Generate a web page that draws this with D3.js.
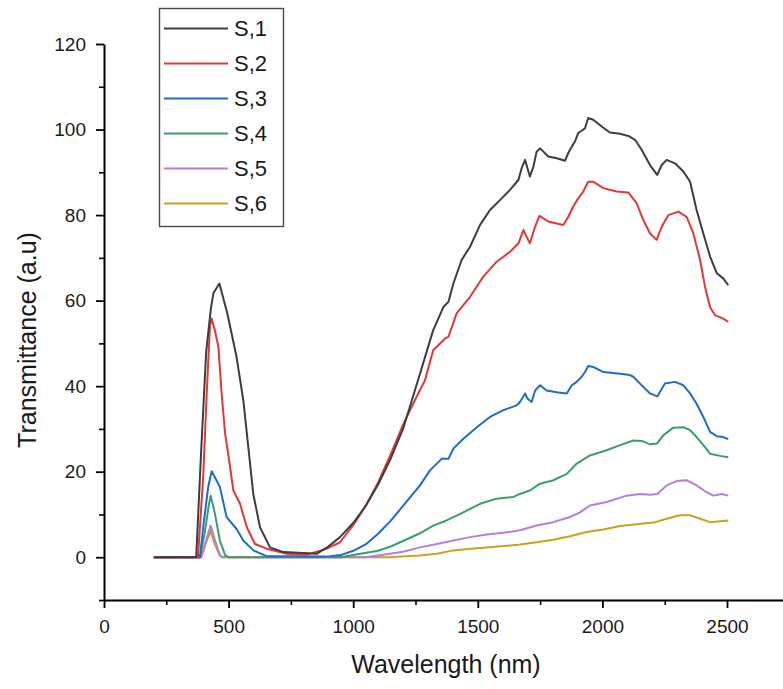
<!DOCTYPE html>
<html>
<head>
<meta charset="utf-8">
<script src="https://cdn.jsdelivr.net/npm/d3@7"></script>
<style>
  body { margin: 0; background: #fff; }
  svg { font-family: "Liberation Sans", Arial, sans-serif; }
</style>
</head>
<body>
<div id="chart"></div>
<script>
// readings from the plot: [wavelength nm, transmittance]
const s1 = [[200,0],[370,0],[390,25],[410,48],[429,58.2],[439,61.7],[463,64],[495,57],[532,46.8],[559,36.7],[579,25.8],[599,14.8],[626,7],[666,2.3],[720,1.2],[800,1],[853,0.8],[900,2.5],[947,4.7],[1000,8],[1050,12],[1100,17],[1150,23],[1200,30],[1268,42.9],[1321,53.1],[1362,58.5],[1382,59.7],[1402,64],[1435,69.5],[1469,72.6],[1509,77.7],[1549,81.2],[1589,83.5],[1629,85.9],[1663,88.2],[1676,91],[1690,92.9],[1699,91],[1709,89],[1723,91.3],[1736,94.8],[1750,95.6],[1783,93.7],[1817,93.3],[1850,92.7],[1863,94.5],[1877,96],[1890,97.2],[1903,99.2],[1921,99.9],[1930,100.3],[1943,102.7],[1963,102.3],[1997,100.7],[2030,99.3],[2071,99],[2104,98.5],[2131,97.6],[2158,95.2],[2191,91.7],[2220,89.4],[2238,91.7],[2258,92.9],[2291,92.1],[2325,90.2],[2352,87.8],[2378,81.2],[2405,75.7],[2432,70.3],[2459,66.4],[2485,65.2],[2505,63.6]];
const s2 = [[200,0],[377,0],[398,18.7],[412,38],[425,53.9],[432,55.8],[445,53],[459,49.2],[472,38.3],[486,28.9],[506,21.1],[519,15.6],[546,12.5],[573,7],[606,3.1],[653,2],[733,0.8],[813,0.6],[894,2],[947,3.5],[1000,7.5],[1050,12],[1100,17.5],[1150,24],[1200,31],[1250,37],[1288,41.4],[1321,48.4],[1368,51.1],[1382,51.5],[1415,57],[1469,60.9],[1522,65.6],[1576,69.1],[1629,71.4],[1663,73.4],[1683,76.5],[1696,74.9],[1709,73.4],[1730,77.3],[1747,79.8],[1783,78.5],[1843,77.7],[1863,79.6],[1883,82],[1903,83.9],[1923,85.5],[1943,87.8],[1963,87.8],[2004,86.3],[2057,85.5],[2104,85.3],[2137,82.8],[2164,78.9],[2191,75.7],[2218,74.2],[2238,77.3],[2265,80],[2305,80.8],[2338,79.6],[2365,75.7],[2392,69.5],[2412,63.2],[2432,58.5],[2452,56.6],[2485,55.8],[2505,55]];
const s3 = [[200,0],[385,0],[400,8],[418,16.4],[432,20.1],[445,18.7],[465,16.4],[492,9.4],[532,6.6],[559,3.9],[599,1.6],[650,0.3],[900,0.2],[950,0.5],[1000,1.5],[1050,3],[1100,5.5],[1150,8.5],[1200,12],[1268,16.8],[1308,20.3],[1355,23],[1382,23],[1402,25.4],[1442,27.7],[1496,30.4],[1549,32.8],[1603,34.4],[1656,35.5],[1669,36.3],[1690,38.3],[1699,37.1],[1716,36.3],[1730,39],[1750,40.2],[1776,39],[1817,38.6],[1857,38.3],[1877,40.2],[1897,41],[1917,42.2],[1930,43.3],[1943,44.7],[1963,44.5],[2004,43.3],[2071,42.9],[2111,42.6],[2124,42.2],[2151,40.6],[2191,38.3],[2220,37.6],[2251,40.6],[2291,41],[2325,40.2],[2352,38.3],[2378,35.9],[2405,32.8],[2432,29.3],[2459,28.3],[2485,28.1],[2505,27.6]];
const s4 = [[200,0],[385,0],[405,6],[420,12],[428,14.4],[445,10.2],[465,3.9],[486,0.5],[500,0],[950,0],[1000,0.5],[1100,1.5],[1150,2.5],[1200,3.8],[1268,5.6],[1321,7.4],[1375,8.6],[1442,10.5],[1509,12.5],[1576,13.7],[1643,14.1],[1669,14.8],[1709,15.6],[1750,17.2],[1803,18],[1857,19.5],[1897,21.9],[1950,23.8],[2017,25],[2071,26.2],[2124,27.3],[2158,27.2],[2191,26.4],[2220,26.6],[2244,28.5],[2285,30.3],[2325,30.4],[2352,29.7],[2378,28.1],[2405,26.2],[2432,24.2],[2472,23.7],[2505,23.4]];
const s5 = [[200,0],[390,0],[410,4],[428,7.4],[445,4],[465,0.5],[475,0],[1050,0],[1100,0.4],[1200,1.3],[1268,2.3],[1335,3.1],[1402,3.9],[1469,4.7],[1536,5.3],[1603,5.7],[1669,6.3],[1736,7.4],[1803,8.2],[1870,9.4],[1910,10.5],[1950,12.1],[2017,12.9],[2097,14.4],[2151,14.8],[2191,14.6],[2220,14.8],[2258,16.8],[2298,17.8],[2338,18],[2378,16.8],[2418,15.2],[2445,14.4],[2479,14.8],[2505,14.4]];
const s6 = [[200,0],[390,0],[410,3.5],[428,6.1],[445,3],[465,0.3],[475,0],[1150,0],[1200,0.2],[1268,0.4],[1335,0.8],[1402,1.6],[1469,2],[1536,2.3],[1603,2.6],[1669,3],[1736,3.5],[1803,4.1],[1870,4.9],[1937,5.9],[2004,6.5],[2071,7.3],[2137,7.7],[2205,8.1],[2258,9],[2311,9.8],[2352,9.8],[2392,9],[2432,8.2],[2472,8.4],[2505,8.6]];

const names = ['S,1', 'S,2', 'S,3', 'S,4', 'S,5', 'S,6'];
const colors = ['#3d3d3d', '#e03838', '#1f6cc4', '#35a06a', '#b07fe0', '#c9a020'];
const xTicks = [0, 500, 1000, 1500, 2000, 2500];
const yTicks = [0, 20, 40, 60, 80, 100, 120];

const series = [s1, s2, s3, s4, s5, s6];

const w = 783, h = 689;
const x = d3.scaleLinear().domain([0, 2750]).range([104, 789.3]);
const y = d3.scaleLinear().domain([-10, 120]).range([600, 44]);

const svg = d3.select('#chart').append('svg').attr('width', w).attr('height', h);

// minor ticks
svg.append('g')
    .attr('transform', `translate(0, ${y(-10)})`)
    .call(d3.axisBottom(x).tickValues(d3.range(250, 2750, 500)).tickSize(5).tickFormat(''))
    .call(g => g.select('.domain').remove())
    .call(g => g.selectAll('line').attr('stroke-width', 1.6));

svg.append('g')
    .attr('transform', `translate(${x(0)}, 0)`)
    .call(d3.axisLeft(y).tickValues(d3.range(-10, 120, 20)).tickSize(5).tickFormat(''))
    .call(g => g.select('.domain').remove())
    .call(g => g.selectAll('line').attr('stroke-width', 1.6));

// main axes
svg.append('g')
    .attr('transform', `translate(0, ${y(-10)})`)
    .call(d3.axisBottom(x).tickValues(xTicks).tickFormat(d3.format('d')).tickSize(8).tickPadding(12).tickSizeOuter(0))
    .call(g => g.select('.domain').attr('stroke-width', 2))
    .call(g => g.selectAll('line').attr('stroke-width', 1.8))
    .call(g => g.selectAll('text').attr('font-size', 19).attr('fill', '#1a1a1a').attr('font-family', 'Liberation Sans, Arial'));

svg.append('g')
    .attr('transform', `translate(${x(0)}, 0)`)
    .call(d3.axisLeft(y).tickValues(yTicks).tickFormat(d3.format('d')).tickSize(8).tickPadding(10).tickSizeOuter(0))
    .call(g => g.select('.domain').attr('stroke-width', 2))
    .call(g => g.selectAll('line').attr('stroke-width', 1.8))
    .call(g => g.selectAll('text').attr('font-size', 19).attr('fill', '#1a1a1a').attr('font-family', 'Liberation Sans, Arial'));

const line = d3.line()
    .x(d => x(d[0]))
    .y(d => y(d[1]));

// draw last series first so S,1 sits on top like the original
for (let i = series.length - 1; i >= 0; i--) {
    svg.append('path')
        .datum(series[i])
        .attr('fill', 'none')
        .attr('stroke', colors[i])
        .attr('stroke-width', 2)
        .attr('stroke-linejoin', 'round')
        .attr('d', line);
}

// axis titles
svg.append('text')
    .attr('x', 446)
    .attr('y', 673)
    .attr('text-anchor', 'middle')
    .attr('font-size', 25)
    .attr('fill', '#1a1a1a')
    .text('Wavelength (nm)');

svg.append('text')
    .attr('transform', 'translate(36, 340) rotate(-90)')
    .attr('text-anchor', 'middle')
    .attr('font-size', 25)
    .attr('fill', '#1a1a1a')
    .text('Transmittance (a.u)');

// legend
const legend = svg.append('g');
legend.append('rect')
    .attr('x', 159.5).attr('y', 8.5)
    .attr('width', 124).attr('height', 218)
    .attr('fill', '#fff')
    .attr('stroke', '#4a4a4a')
    .attr('stroke-width', 1.4);

names.forEach((n, i) => {
    const ly = 28.5 + i * 35;
    legend.append('line')
        .attr('x1', 164).attr('x2', 228)
        .attr('y1', ly).attr('y2', ly)
        .attr('stroke', colors[i])
        .attr('stroke-width', 2.2);
    legend.append('text')
        .attr('x', 234).attr('y', ly)
        .attr('dy', '0.36em')
        .attr('font-size', 22)
        .attr('fill', '#1a1a1a')
        .text(n);
});
</script>
</body>
</html>
